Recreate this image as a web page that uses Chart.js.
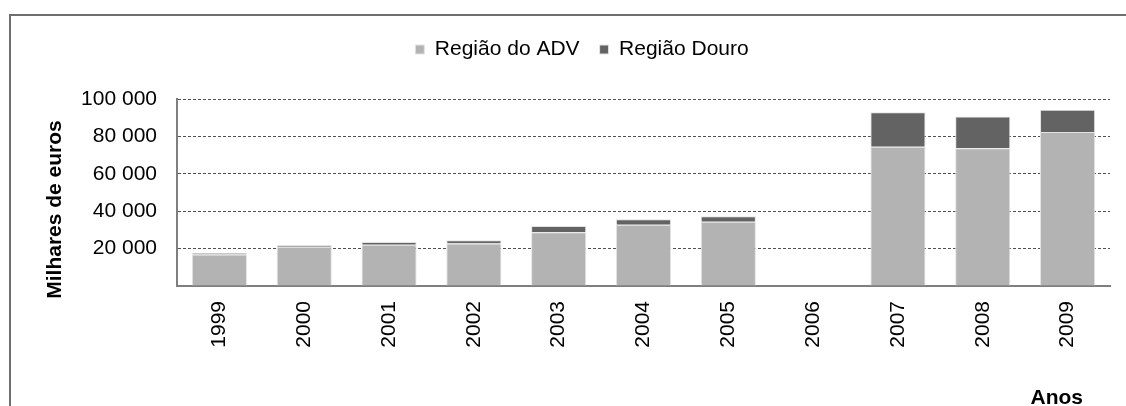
<!DOCTYPE html>
<html>
<head>
<meta charset="utf-8">
<script src="https://cdn.jsdelivr.net/npm/chart.js@4"></script>
<style>
  html, body { margin: 0; padding: 0; background: #ffffff; }
  #wrap { position: relative; width: 1126px; height: 406px; overflow: hidden; }
  #frame { position: absolute; left: 9px; top: 14px; width: 1200px; height: 500px;
           border-left: 2px solid #6e6e6e; border-top: 2px solid #6e6e6e; box-sizing: border-box; }
  canvas { position: absolute; left: 0; top: 0; }
</style>
</head>
<body>
<div id="wrap">
  <div id="frame"></div>
  <canvas id="c" width="1126" height="406"></canvas>
</div>
<script>
const years = ['1999', '2000', '2001', '2002', '2003', '2004', '2005', '2006', '2007', '2008', '2009'];
const regiaoADV = [16800, 21000, 22000, 22700, 28800, 32700, 34300, null, 74500, 73600, 82400];
const regiaoDouro = [900, 900, 1500, 1800, 3300, 3000, 3000, null, 18400, 17100, 11900];
const seriesNames = ['Região do ADV', 'Região Douro'];
const yTitle = 'Milhares de euros';
const xTitle = 'Anos';
const yMax = 100000;
const yStep = 20000;

const FONT = "'Liberation Sans', Arial, sans-serif";
Chart.defaults.font.family = FONT;
Chart.defaults.font.size = 21;
Chart.defaults.color = '#000000';

function fmt(v) {
  return String(v).replace(/\B(?=(\d{3})+(?!\d))/g, ' ');
}

const legendSpace = {
  id: 'legendSpace',
  beforeLayout(chart) {
    const lg = chart.legend;
    if (lg && !lg.__patched) {
      const orig = lg.fit;
      lg.fit = function () { orig.call(this); this.height += 29; };
      lg.__patched = true;
    }
  }
};

const axisTitles = {
  id: 'axisTitles',
  afterDraw(chart) {
    const ctx = chart.ctx;
    const a = chart.chartArea;
    ctx.save();
    ctx.fillStyle = '#000';
    ctx.font = 'bold 21px ' + FONT;
    ctx.textAlign = 'center';
    ctx.textBaseline = 'middle';
    ctx.translate(a.left - 122, (a.top + a.bottom) / 2 + 17);
    ctx.rotate(-Math.PI / 2);
    ctx.fillText(yTitle, 0, 0);
    ctx.restore();
    ctx.save();
    ctx.fillStyle = '#000';
    ctx.font = 'bold 21px ' + FONT;
    ctx.textAlign = 'right';
    ctx.textBaseline = 'alphabetic';
    ctx.fillText(xTitle, a.right - 27, 404);
    ctx.restore();
  }
};

new Chart(document.getElementById('c'), {
  type: 'bar',
  data: {
    labels: years,
    datasets: [
      { label: seriesNames[0], data: regiaoADV, backgroundColor: '#b3b3b3', borderColor: '#e3e3e3', borderWidth: 1 },
      { label: seriesNames[1], data: regiaoDouro, backgroundColor: '#636363', borderColor: '#e3e3e3', borderWidth: 1 }
    ]
  },
  options: {
    responsive: false,
    animation: false,
    layout: { padding: { left: 54, right: 16, top: 19, bottom: 0 } },
    datasets: { bar: { categoryPercentage: 1, barPercentage: 0.65 } },
    plugins: {
      legend: {
        position: 'top',
        align: 'center',
        labels: { boxWidth: 9, boxHeight: 9, padding: 20, color: '#000', font: { size: 21 } }
      },
      tooltip: { enabled: false },
      title: { display: false }
    },
    scales: {
      x: {
        stacked: true,
        grid: { display: false, drawTicks: false },
        border: { display: true, color: '#7f7f7f', width: 2 },
        ticks: { minRotation: 90, maxRotation: 90, padding: 15, color: '#000', font: { size: 21 } },
        afterFit(scale) { scale.height = 120; }
      },
      y: {
        stacked: true,
        min: 0,
        max: yMax,
        grid: { color: '#505050', lineWidth: 1, drawTicks: false },
        border: { display: true, color: '#7f7f7f', width: 2, dash: [3, 2] },
        ticks: { stepSize: yStep, padding: 20, color: '#000', font: { size: 21 },
          callback: (v) => v === 0 ? '' : fmt(v) },
        afterFit(scale) { scale.width = 123; }
      }
    }
  },
  plugins: [legendSpace, axisTitles]
});
</script>
</body>
</html>
